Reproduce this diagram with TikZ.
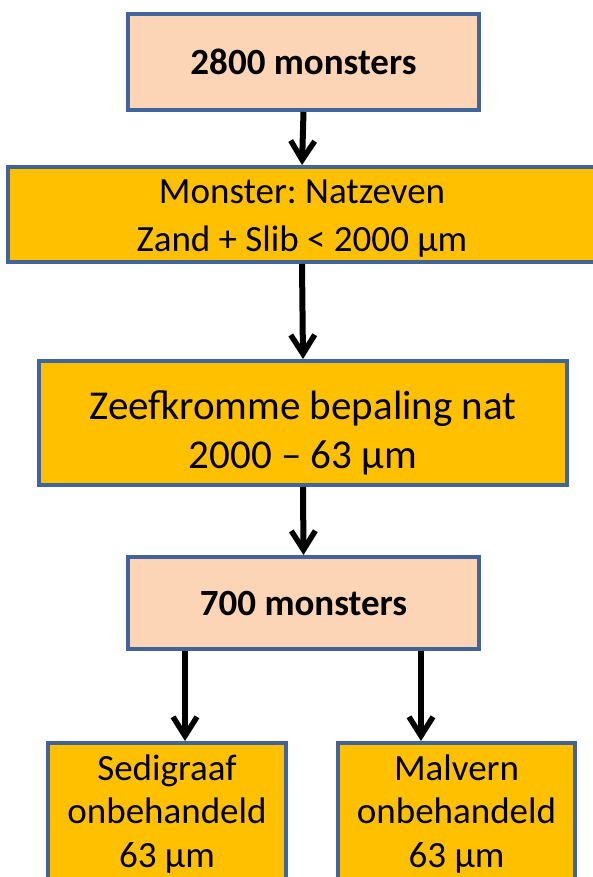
\documentclass[tikz,border=0pt]{standalone}
\usepackage{fontspec}
\setmainfont{Carlito}
\usetikzlibrary{arrows.meta}
\definecolor{peach}{HTML}{FBD5B5}
\definecolor{amber}{HTML}{FFC000}
\definecolor{edge}{HTML}{41659A}
\tikzset{
  box/.style={draw=edge, line width=4pt, inner sep=0pt, align=center},
  countbox/.style={box, fill=peach, font=\fontsize{37}{45}\selectfont\bfseries},
  stepbox/.style={box, fill=amber},
  arr/.style={line width=6pt, -{Straight Barb[length=19pt,width=24pt,line width=5.5pt]}}
}
\begin{document}
\frenchspacing
\begin{tikzpicture}[x=1pt,y=-1pt]
\useasboundingbox (0,0) rectangle (593,877);
\clip (0,0) rectangle (593,877);

\node[countbox, minimum width=351pt, minimum height=96pt] (n2800) at (303.5,62) {2800 monsters};
\node[stepbox, minimum width=588pt, minimum height=95pt,
      font=\fontsize{37}{48}\selectfont] (nat) at (302,214.5)
      {\rule{0pt}{32pt}Monster: Natzeven\\Zand + Slib < 2000 µm};
\node[stepbox, minimum width=528pt, minimum height=124pt,
      font=\fontsize{41}{49}\selectfont] (zeef) at (303,423)
      {\rule{0pt}{49pt}Zeefkromme bepaling nat\\2000 – 63 µm};
\node[countbox, minimum width=351pt, minimum height=92pt] (n700) at (303.5,603) {700 monsters};
\node[stepbox, minimum width=238pt, minimum height=142pt,
      font=\fontsize{37}{43.5}\selectfont] (sedi) at (167,814)
      {Sedigraaf\\onbehandeld\\63 µm};
\node[stepbox, minimum width=237pt, minimum height=142pt,
      font=\fontsize{37}{43.5}\selectfont] (malv) at (456.5,814)
      {Malvern\\onbehandeld\\63 µm};

\draw[arr] (n2800.south) -- (nat.north);
\draw[arr] (nat.south) -- (zeef.north);
\draw[arr] (zeef.south) -- (n700.north);
\draw[arr] ([xshift=18pt]sedi.north |- n700.south) -- ([xshift=18pt]sedi.north);
\draw[arr] ([xshift=-35.5pt]malv.north |- n700.south) -- ([xshift=-35.5pt]malv.north);
\end{tikzpicture}
\end{document}
